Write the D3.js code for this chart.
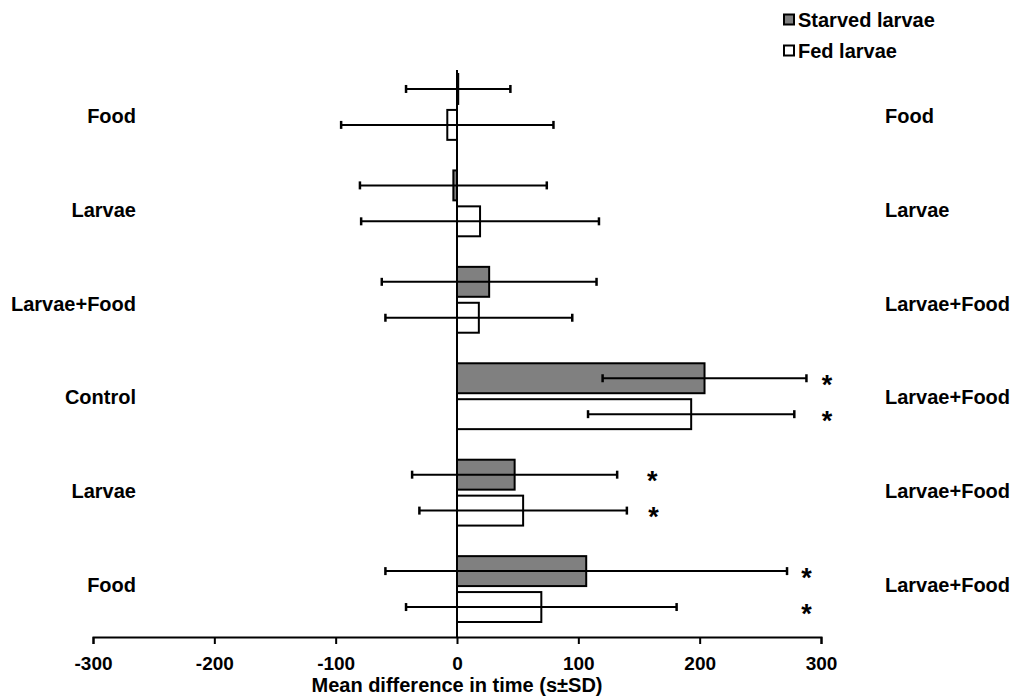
<!DOCTYPE html>
<html>
<head>
<meta charset="utf-8">
<script src="https://cdn.jsdelivr.net/npm/d3@7"></script>
<style>
  body { margin: 0; background: #fff; }
  text { font-family: "Liberation Sans", Arial, sans-serif; font-weight: bold; fill: #000; }
</style>
</head>
<body>
<div id="chart"></div>
<script>
// data
var leftLabels = ["Food", "Larvae", "Larvae+Food", "Control", "Larvae", "Food"]
var rightLabels = ["Food", "Larvae", "Larvae+Food", "Larvae+Food", "Larvae+Food", "Larvae+Food"]
var series = ["Starved larvae", "Fed larvae"]
var starvedMean = [1, -3, 26.5, 204, 47.5, 106.5]
var starvedSD = [43, 77, 88.5, 84, 84.5, 165.5]
var fedMean = [-8, 19, 18, 193, 54.5, 69.5]
var fedSD = [87.5, 98, 77, 85, 85.5, 111.5]
// where the significance stars sit (in x units), null = none
var starvedStar = [null, null, null, 305, 161, 288]
var fedStar = [null, null, null, 305, 162, 288]
var xTicks = [-300, -200, -100, 0, 100, 200, 300]

var dims = {
    width: 1015,
    height: 698,
    left: 93, right: 821,
    top: 74, bottom: 622,
    axisY: 637
}

var svg = d3.select("#chart")
    .append("svg")
    .attr("width", dims.width)
    .attr("height", dims.height)

var x = d3.scaleLinear().domain([-300, 300]).range([dims.left, dims.right])

var groupScale = d3.scaleBand()
    .domain(d3.range(leftLabels.length))
    .range([dims.top, dims.bottom])
    .paddingInner(0.317)
    .paddingOuter(0)

var seriesScale = d3.scaleBand()
    .domain(series)
    .range([0, groupScale.bandwidth()])
    .paddingInner(0.1667)

// the side labels sit on a slightly tighter spacing than the bars
var labelScale = d3.scalePoint()
    .domain(d3.range(leftLabels.length))
    .range([123, 592])

var colors = { "Starved larvae": "#808080", "Fed larvae": "#ffffff" }

// flatten into rows
var rows = []
leftLabels.forEach((lab, i) => {
    rows.push({ group: i, s: series[0], mean: starvedMean[i], sd: starvedSD[i], star: starvedStar[i] })
    rows.push({ group: i, s: series[1], mean: fedMean[i], sd: fedSD[i], star: fedStar[i] })
})
var yOf = d => groupScale(d.group) + seriesScale(d.s)
var bh = seriesScale.bandwidth()

// axis
var axis = d3.axisBottom(x)
    .tickValues(xTicks)
    .tickFormat(d3.format("d"))
    .tickSizeInner(7)
    .tickSizeOuter(7)
    .tickPadding(13)

var ax = svg.append("g")
    .attr("transform", `translate(0,${dims.axisY})`)
    .call(axis)
ax.select(".domain").attr("stroke", "#000").attr("stroke-width", 2)
ax.selectAll(".tick line").attr("stroke", "#000").attr("stroke-width", 2)
ax.selectAll(".tick text")
    .attr("font-size", "19px")
    .style("font-family", "'Liberation Sans', Arial, sans-serif")
    .style("font-weight", "bold")
    .text(d => d < 0 ? "-" + Math.abs(d) : d)

svg.append("text")
    .attr("x", x(0))
    .attr("y", 692)
    .attr("text-anchor", "middle")
    .attr("font-size", "20px")
    .text("Mean difference in time (s\u00b1SD)")

// bars
svg.append("g")
    .selectAll("rect")
    .data(rows)
    .enter()
    .append("rect")
    .attr("x", d => x(Math.min(0, d.mean)))
    .attr("y", d => yOf(d))
    .attr("width", d => Math.abs(x(d.mean) - x(0)))
    .attr("height", bh)
    .attr("fill", d => colors[d.s])
    .attr("stroke", "#000")
    .attr("stroke-width", 2)

// zero line
svg.append("line")
    .attr("x1", x(0)).attr("x2", x(0))
    .attr("y1", dims.top - 4)
    .attr("y2", dims.axisY)
    .attr("stroke", "#000")
    .attr("stroke-width", 2)

// error bars
var eb = svg.append("g")
    .selectAll("g")
    .data(rows)
    .enter()
    .append("g")
    .attr("stroke", "#000")
    .attr("stroke-width", 2)
eb.append("line")
    .attr("x1", d => x(d.mean - d.sd))
    .attr("x2", d => x(d.mean + d.sd))
    .attr("y1", d => yOf(d) + bh / 2)
    .attr("y2", d => yOf(d) + bh / 2)
eb.append("line")
    .attr("stroke-width", 2.5)
    .attr("x1", d => x(d.mean - d.sd))
    .attr("x2", d => x(d.mean - d.sd))
    .attr("y1", d => yOf(d) + bh / 2 - 4)
    .attr("y2", d => yOf(d) + bh / 2 + 4)
eb.append("line")
    .attr("stroke-width", 2.5)
    .attr("x1", d => x(d.mean + d.sd))
    .attr("x2", d => x(d.mean + d.sd))
    .attr("y1", d => yOf(d) + bh / 2 - 4)
    .attr("y2", d => yOf(d) + bh / 2 + 4)

// stars
svg.append("g")
    .selectAll("text")
    .data(rows.filter(d => d.star != null))
    .enter()
    .append("text")
    .attr("x", d => x(d.star))
    .attr("y", d => yOf(d) + bh / 2)
    .attr("dy", "0.58em")
    .attr("text-anchor", "middle")
    .attr("font-size", "27px")
    .text("*")

// category labels
svg.append("g")
    .selectAll("text")
    .data(leftLabels)
    .enter()
    .append("text")
    .attr("x", 136)
    .attr("y", (_, i) => labelScale(i))
    .attr("text-anchor", "end")
    .attr("font-size", "20px")
    .text(d => d)

svg.append("g")
    .selectAll("text")
    .data(rightLabels)
    .enter()
    .append("text")
    .attr("x", 885)
    .attr("y", (_, i) => labelScale(i))
    .attr("text-anchor", "start")
    .attr("font-size", "20px")
    .text(d => d)

// legend
var leg = svg.append("g")
    .selectAll("g")
    .data(series)
    .enter()
    .append("g")
    .attr("transform", (_, i) => `translate(783,${14 + i * 31})`)
leg.append("rect")
    .attr("x", 1).attr("y", 0.5)
    .attr("width", 10).attr("height", 10)
    .attr("fill", d => colors[d])
    .attr("stroke", "#000")
    .attr("stroke-width", 2)
leg.append("text")
    .attr("x", 15)
    .attr("y", 13)
    .attr("font-size", "20px")
    .text(d => d)
</script>
</body>
</html>
